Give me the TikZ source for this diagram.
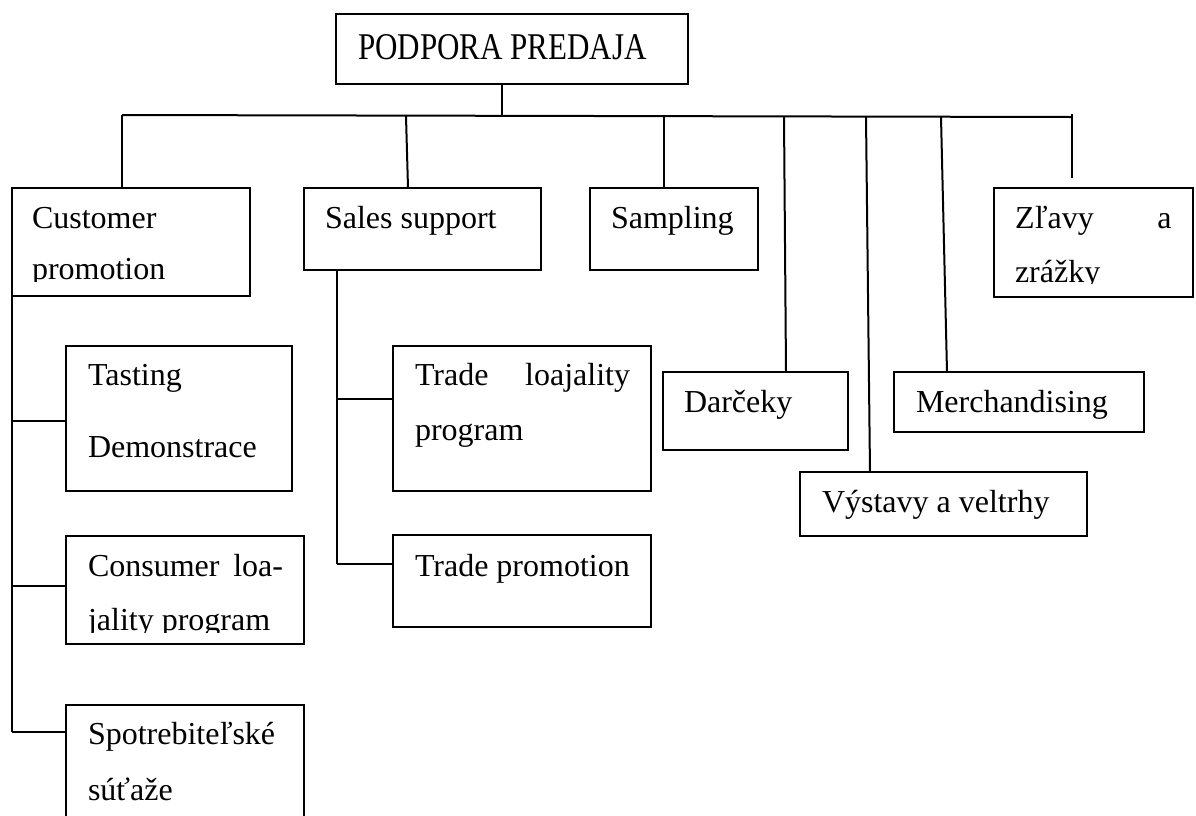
\documentclass[tikz,border=0pt]{standalone}
\usepackage{fontspec}
\setmainfont{Liberation Serif}
\usetikzlibrary{calc}
% box given by its corners: name, x1, y1, x2, y2 (y grows downward)
\newcommand\mkbox[5]{\node[pbox, minimum width={(#4)-(#2)}, minimum height={(#5)-(#3)}] (#1) at (#2,#3) {};}
\begin{document}
\begin{tikzpicture}[x=1pt,y=-1pt,
  pbox/.style={draw, line width=2pt, inner sep=0pt, outer sep=0pt, anchor=north west},
  wire/.style={line width=2pt},
  lbl/.style={inner sep=0pt, outer sep=0pt, anchor=base west, font=\fontsize{32}{54}\selectfont},
  lblr/.style={lbl, anchor=base east}]
\clip (0,0) rectangle (1196,815);
\fill[white] (0,0) rectangle (1196,815);

% boxes
\mkbox{top}{336}{14}{688}{84}
\mkbox{cust}{12}{188}{250}{296}
\mkbox{sales}{304}{188}{541}{270}
\mkbox{samp}{590}{188}{758}{270}
\mkbox{zlavy}{994}{188}{1193}{297}
\mkbox{darc}{663}{372}{848}{450}
\mkbox{merch}{894}{372}{1144}{432}
\mkbox{vyst}{800}{472}{1087}{536}
\mkbox{tast}{66}{346}{292}{491}
\mkbox{cons}{66}{536}{304}{644}
\mkbox{spot}{66}{705}{304}{860}
\mkbox{tloy}{393}{346}{651}{491}
\mkbox{tprom}{393}{535}{651}{627}

% labels
\node[lbl] (ttop) at (358,59) {\scalebox{0.97}[1.18]{PODPORA PREDAJA}};
\begin{scope}
  \clip (cust.north west) rectangle ([yshift=15pt]cust.south east);
  \node[lbl] (tcust1) at (32,228) {Customer};
  \node[lbl] (tcust2) at (32,279) {promotion};
\end{scope}
\node[lbl] (tsales) at (325,228) {Sales support};
\node[lbl] (tsamp) at (611,228) {Sampling};
\begin{scope}
  \clip (zlavy.north west) rectangle ([yshift=14pt]zlavy.south east);
  \node[lbl] (tzl1) at (1015,228) {Zľavy};
  \node[lblr] (tzl2) at (1171.5,228) {a};
  \node[lbl] (tzl3) at (1015,282) {zrážky};
\end{scope}
\node[lbl] (tdarc) at (684,412) {Darčeky};
\node[lbl] (tmerch) at (916,412) {Merchandising};
\node[lbl] (tvyst) at (822,512) {Výstavy a veltrhy};
\node[lbl] (ttast1) at (88,385) {Tasting};
\node[lbl] (ttast2) at (88,457) {Demonstrace};
\node[lbl] (ttloy1) at (415,385) {Trade};
\node[lblr] (ttloy2) at (630,385) {loajality};
\node[lbl] (ttloy3) at (415,440) {program};
\begin{scope}
  \clip (cons.north west) rectangle ([yshift=12pt]cons.south east);
  \node[lbl] (tcons1) at (88,576) {Consumer};
  \node[lblr] (tcons2) at (283,576) {loa-};
  \node[lbl] (tcons3) at (88,630) {jality program};
\end{scope}
\node[lbl] (ttprom) at (415,576) {Trade promotion};
\node[lbl] (tspot1) at (88,744) {Spotrebiteľské};
\node[lbl] (tspot2) at (88,800) {súťaže};

% main bus
\coordinate (busL) at (122,115);
\coordinate (busR) at (1072,117);
\coordinate (busT) at (502,116);
\coordinate (zlTop) at (1072,114);
\coordinate (zlEnd) at (1072,178);
\draw[wire] (busL) -- (busR);
\draw[wire] ($(top.south west)+(166,0)$) -- (busT);
\draw[wire] (zlTop) -- (zlEnd);

% stems from the bus to the boxes
\coordinate (b1) at (122,115);
\coordinate (b2) at (406,116);
\coordinate (b3) at (663.5,116.5);
\coordinate (b4) at (784,116.7);
\coordinate (b5) at (866,117);
\coordinate (b6) at (941,117);
\draw[wire] (b1) -- ($(cust.north west)+(110,0)$);
\draw[wire] (b2) -- ($(sales.north west)+(104,0)$);
\draw[wire] (b3) -- ($(samp.north west)+(73.5,0)$);
\draw[wire] (b4) -- ($(darc.north west)+(123,0)$);
\draw[wire] (b5) -- ($(vyst.north west)+(70,0)$);
\draw[wire] (b6) -- ($(merch.north west)+(53,0)$);

% customer promotion branch
\coordinate (j1) at (12,421);
\coordinate (j2) at (12,586);
\coordinate (j3) at (12,732);
\draw[wire] (cust.south west) -- (j3);
\draw[wire] (j1) -- (tast.west |- j1);
\draw[wire] (j2) -- (cons.west |- j2);
\draw[wire] (j3) -- (spot.west |- j3);

% sales support branch
\coordinate (k1) at (337,399);
\coordinate (k2) at (337,564);
\draw[wire] ($(sales.south west)+(33,0)$) -- (k2);
\draw[wire] (k1) -- (tloy.west |- k1);
\draw[wire] (k2) -- (tprom.west |- k2);
\end{tikzpicture}
\end{document}
